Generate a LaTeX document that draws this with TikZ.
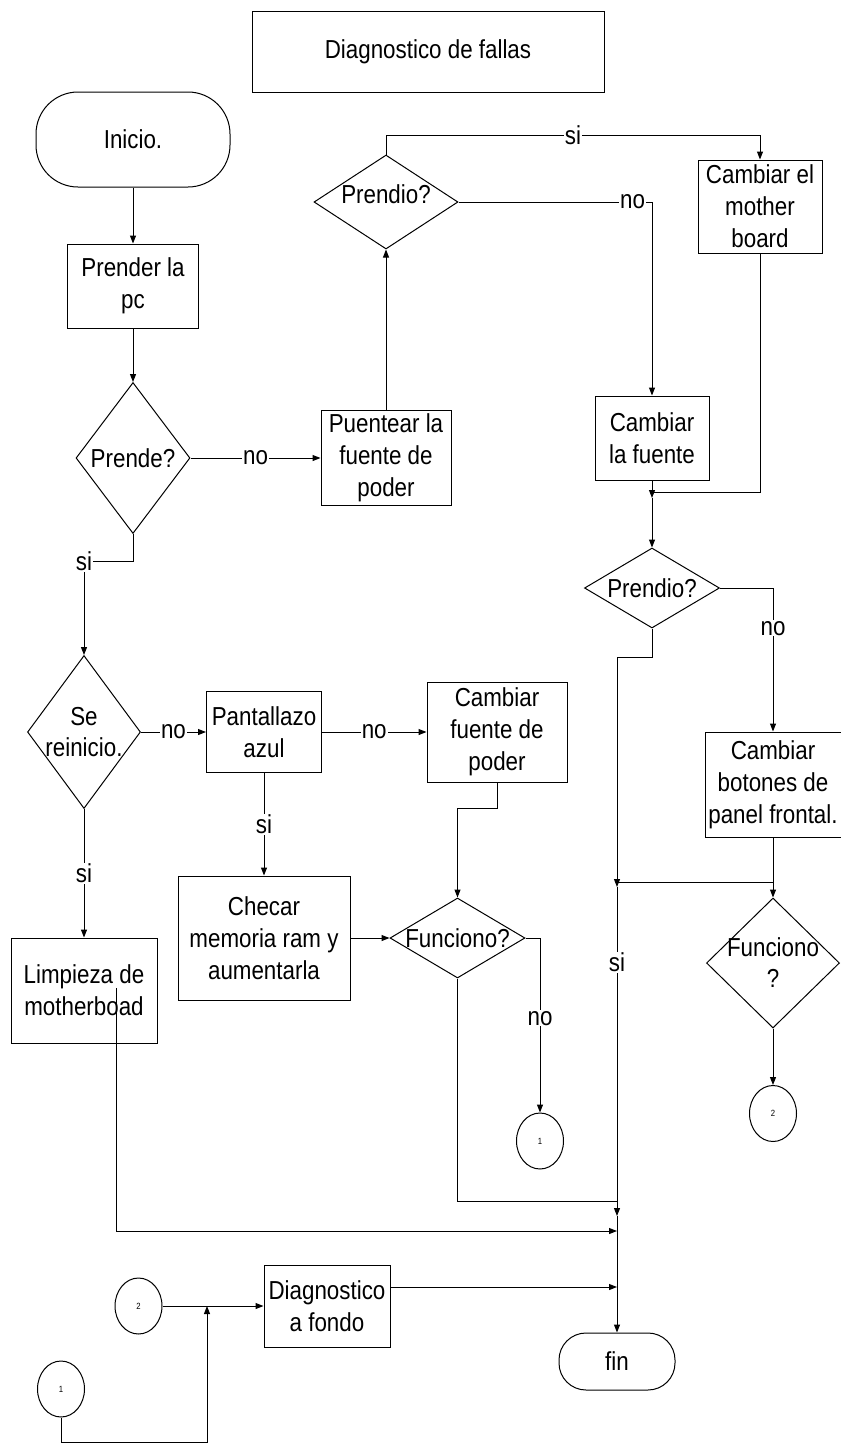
\documentclass[tikz,border=0pt]{standalone}
\usepackage{fontspec}
\setmainfont{Liberation Sans}[FakeStretch=0.86]
\usetikzlibrary{arrows.meta, shapes.geometric, calc}
\tikzset{
  every picture/.style={line width=1pt},
  box/.style={draw, align=center, inner sep=2pt, font=\fontsize{26}{32}\selectfont},
  term/.style={box, rounded corners=#1},
  term/.default=27pt,
  arrow/.style={-{Triangle[length=8pt, width=6pt]}},
  lbl/.style={fill=white, inner sep=1pt, font=\fontsize{26}{30}\selectfont},
}

\begin{document}
\begin{tikzpicture}[x=1pt, y=-1pt,
  decision/.style={draw, diamond, inner sep=0pt},
  dtext/.style={align=center, font=\fontsize{26}{31}\selectfont},
  conn/.style={draw, ellipse, inner sep=0pt, minimum width=47pt, minimum height=56pt, font=\fontsize{9}{10}\selectfont}]
  \useasboundingbox (0,0) rectangle (841,1444);
  % title
  \node[box, minimum width=352pt, minimum height=81pt] (titulo) at (428,51.5) {Diagnostico de fallas};
  % left column
  \node[term=42pt, minimum width=194pt, minimum height=95pt] (inicio) at (133,139.5) {Inicio.};
  \node[box, minimum width=131pt, minimum height=84pt] (prender) at (133,286) {Prender la\\pc};
  \node[decision, minimum width=114pt, minimum height=151pt, label={[dtext]center:Prende?}] (prende) at (133,458) {};
  \node[decision, minimum width=113pt, minimum height=153pt, label={[dtext]center:Se\\reinicio.}] (reinicio) at (84,732) {};
  \node[box, minimum width=146pt, minimum height=105pt] (limpieza) at (84,990.5) {Limpieza de\\motherboad};
  % middle column
  \node[decision, minimum width=144pt, minimum height=94pt, label={[dtext, yshift=8pt]center:Prendio?}] (prendio) at (386,202) {};
  \node[box, minimum width=130pt, minimum height=95pt] (puentear) at (386,458) {Puentear la\\fuente de\\poder};
  \node[box, minimum width=115pt, minimum height=81pt] (pantallazo) at (264,732) {Pantallazo\\azul};
  \node[box, minimum width=172pt, minimum height=124pt] (checar) at (264,938) {Checar\\memoria ram y\\aumentarla};
  \node[box, minimum width=140pt, minimum height=100pt] (cfuente) at (497,732) {Cambiar\\fuente de\\poder};
  \node[decision, minimum width=135pt, minimum height=80pt, label={[dtext]center:Funciono?}] (funciono) at (457.5,938) {};
  \node[conn] (uno) at (540,1141) {1};
  % right column
  \node[box, minimum width=124pt, minimum height=93pt] (mother) at (760,206.5) {Cambiar el\\mother\\board};
  \node[box, minimum width=114pt, minimum height=84pt] (lafuente) at (652,438) {Cambiar\\la fuente};
  \node[decision, minimum width=135pt, minimum height=80pt, label={[dtext]center:Prendio?}] (prendiob) at (652,588) {};
  \node[box, minimum width=136pt, minimum height=105pt] (botones) at (773,784.5) {Cambiar\\botones de\\panel frontal.};
  \node[decision, minimum width=133pt, minimum height=130pt, label={[dtext]center:Funciono\\?}] (funcionob) at (773,963) {};
  \node[conn] (dos) at (773,1113.5) {2};
  % bottom
  \node[term, minimum width=116pt, minimum height=57pt] (fin) at (617,1361.5) {fin};
  \node[box, minimum width=126pt, minimum height=82pt] (fondo) at (327,1306) {Diagnostico\\a fondo};
  \node[conn] (dosb) at (138.5,1306) {2};
  \node[conn] (unob) at (61,1389) {1};
  % bends and joins
  \coordinate (tsi) at (386,135);
  \coordinate (jm) at (652,492);
  \coordinate (jfa) at (652,498);
  \coordinate (jsi) at (84,561);
  \coordinate (jp) at (617,657);
  \coordinate (jh) at (617,882);
  \coordinate (jx) at (617,887);
  \coordinate (jf) at (617,1201);
  \coordinate (jy) at (617,1216);
  \coordinate (jl) at (617,1231);
  \coordinate (jd) at (617,1287);
  \coordinate (lm) at (116,988);
  \coordinate (jc) at (207,1442);
  % connectors
  \draw[arrow] (inicio) -- (prender);
  \draw[arrow] (prender) -- (prende);
  \draw[arrow] (prende) -- node[lbl]{no} (puentear);
  \draw[arrow] (puentear) -- (prendio);
  \draw[arrow] (prendio.north) -- (tsi) -| node[lbl, pos=0.25]{si} (mother.north);
  \draw[arrow] (prendio.east) -| node[lbl, pos=0.45]{no} (lafuente.north);
  \draw (mother.south) |- (jm);
  \draw[arrow] (lafuente.south) -- (jfa);
  \draw[arrow] (jfa) -- (prendiob.north);
  \draw[arrow] (prendiob.east) -| node[lbl, pos=0.64]{no} (botones.north);
  \draw[arrow] (prendiob.south) |- (jp) -- (jx);
  \draw[arrow] (jx) -- node[lbl, pos=0.23]{si} (jy);
  \draw[arrow] (jy) -- (fin.north);
  \draw (jh) -- (jh -| botones.south);
  \draw[arrow] (botones) -- (funcionob);
  \draw[arrow] (funcionob) -- (dos);
  \draw[arrow] (prende.south) |- node[lbl, pos=1]{si} (jsi) -- (reinicio.north);
  \draw[arrow] (reinicio) -- node[lbl]{no} (pantallazo);
  \draw[arrow] (pantallazo) -- node[lbl]{no} (cfuente);
  \draw[arrow] (pantallazo) -- node[lbl]{si} (checar);
  \draw[arrow] (reinicio) -- node[lbl]{si} (limpieza);
  \draw[arrow] (checar) -- (funciono);
  \draw[arrow] (cfuente.south) -- ++(0,26) -| (funciono.north);
  \draw[arrow] (funciono.east) -| node[lbl, pos=0.73]{no} (uno.north);
  \draw (funciono.south) |- (jf);
  \draw[arrow] (lm) |- (jl);
  \draw[arrow] (fondo.east |- jd) -- (jd);
  \draw[arrow] (dosb) -- (fondo);
  \draw[arrow] (unob.south) |- (jc) -- (jc |- dosb.east);
\end{tikzpicture}
\end{document}
